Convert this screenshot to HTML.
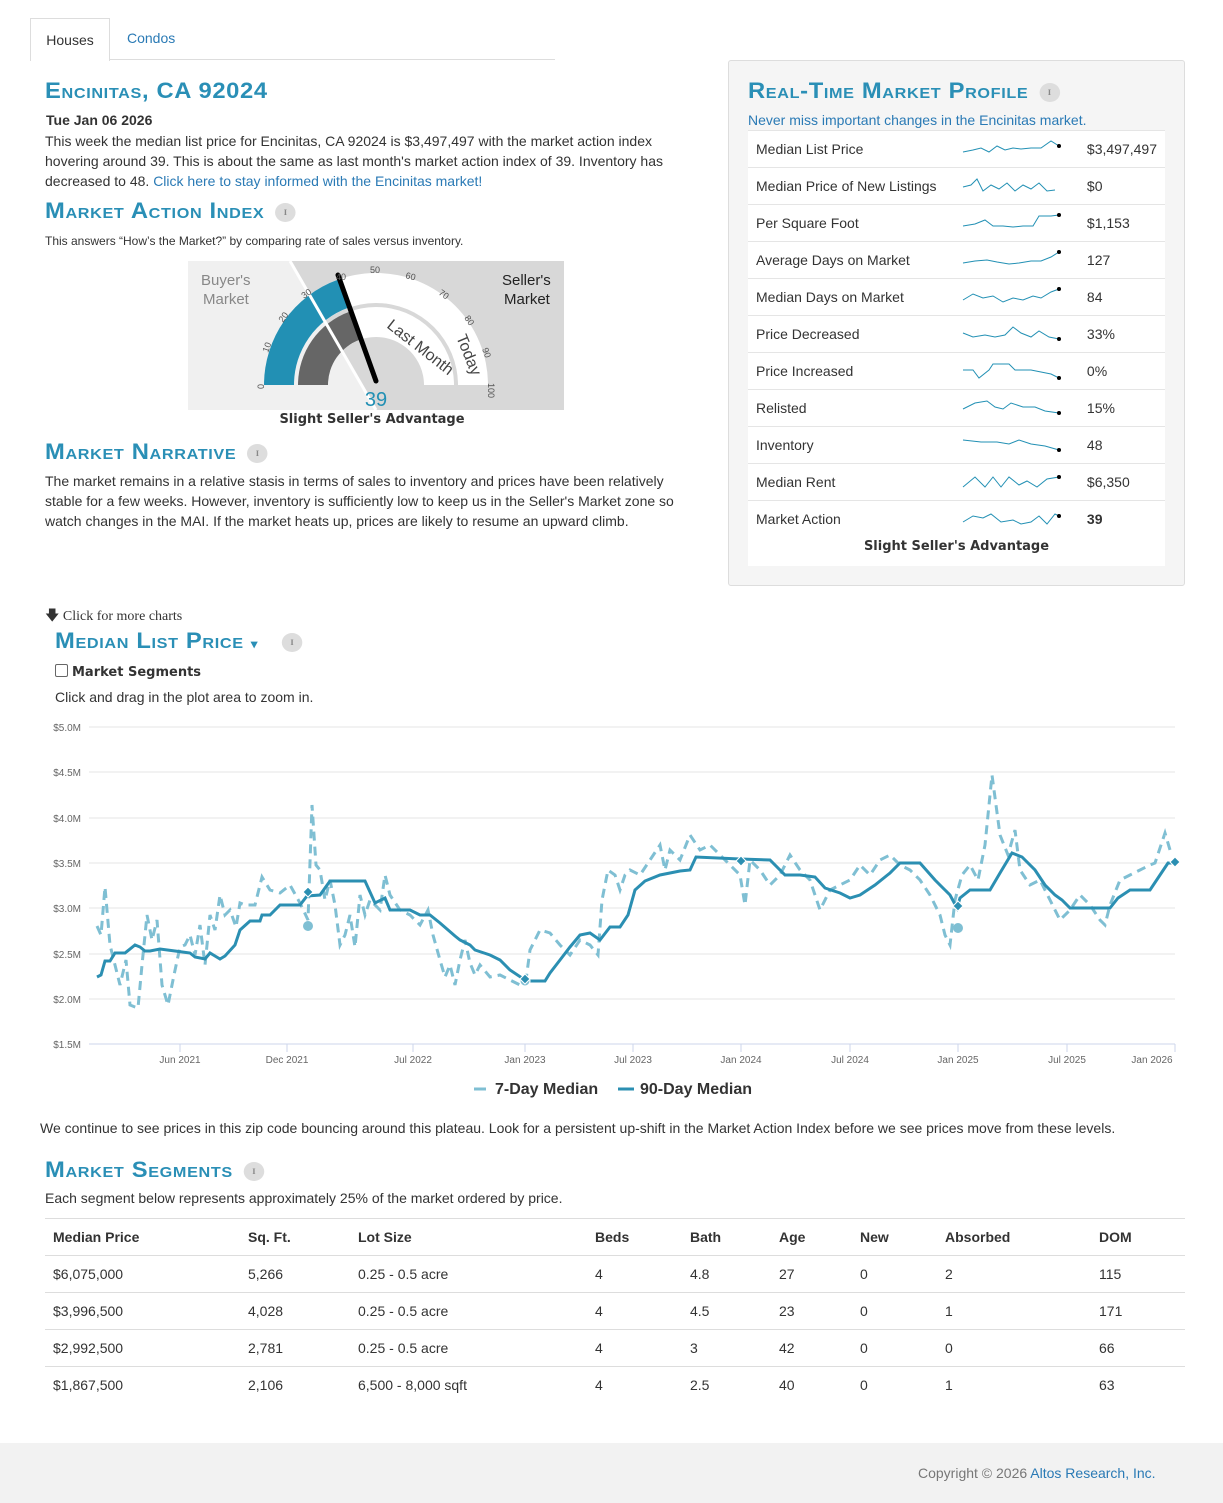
<!DOCTYPE html>
<html><head><meta charset="utf-8"><style>
body{margin:0;width:1223px;height:1503px;font-family:"Liberation Sans",sans-serif;font-size:14px;color:#333;background:#fff;position:relative;overflow:hidden}
.a{position:absolute}
h2{position:absolute;margin:0;font-family:"Liberation Sans",sans-serif;font-variant:small-caps;color:#2a8fb6;font-size:22px;font-weight:bold;letter-spacing:0.6px;transform:scaleX(1.08);transform-origin:left}
.info{display:inline-block;width:19px;height:19px;border-radius:50%;background:#ddd;color:#888;font-size:11px;text-align:center;line-height:19px;font-family:"Liberation Serif",serif;font-weight:bold;vertical-align:middle;margin-left:10px;letter-spacing:0}
a{color:#2a7ab5;text-decoration:none}
.prof td{border-top:1px solid #e5e5e5;height:36px;padding:0 8px;font-size:14px}
.seg{border-collapse:collapse;width:1140px}
.seg td,.seg th{text-align:left;height:36px;border-top:1px solid #ddd;padding:0 8px;font-size:14px}
</style></head><body>
<div class="a" style="left:30px;top:18px;width:525px;height:41px;border-bottom:1px solid #ddd"></div>
<div class="a" style="left:30px;top:18px;width:78px;height:42px;border:1px solid #ddd;border-bottom:none;background:#fff;text-align:center;line-height:42px">Houses</div>
<div class="a" style="left:127px;top:30px;color:#2a7ab5">Condos</div>

<h2 style="left:45px;top:78px">Encinitas, CA 92024</h2>
<div class="a" style="left:46px;top:112px;font-weight:bold">Tue Jan 06 2026</div>
<div class="a" style="left:45px;top:131px;width:640px;line-height:20px">This week the median list price for Encinitas, CA 92024 is $3,497,497 with the market action index hovering around 39. This is about the same as last month's market action index of 39. Inventory has decreased to 48. <a>Click here to stay informed with the Encinitas market!</a></div>
<h2 style="left:45px;top:198px">Market Action Index<span class="info">i</span></h2>
<div class="a" style="left:45px;top:234px;font-size:12px">This answers “How’s the Market?” by comparing rate of sales versus inventory.</div>

<svg class="a" style="left:188px;top:261px" width="376" height="149" viewBox="0 0 376 149">
<rect width="376" height="149" fill="#f0f0f0"/>
<polygon points="102,0 376,0 376,149 188,149" fill="#d8d8d8"/>
<path d="M76,124 A112,112 0 0 1 300,124 L270,124 A82,82 0 0 0 106,124Z" fill="#fff"/>
<path d="M76,124 A112,112 0 0 1 150,18.6 L160.2,46.8 A82,82 0 0 0 106,124Z" fill="#2290b4"/>
<path d="M110,124 A78,78 0 0 1 266,124 L236,124 A48,48 0 0 0 140,124Z" fill="#fff"/>
<path d="M110,124 A78,78 0 0 1 161.6,50.6 L171.7,78.8 A48,48 0 0 0 140,124Z" fill="#666"/>
<line x1="102" y1="0" x2="188" y2="149" stroke="#fff" stroke-width="3"/>
<line x1="150" y1="14" x2="188" y2="120" stroke="#000" stroke-width="5" stroke-linecap="round"/>
<g font-size="9" fill="#555" font-family="Liberation Sans">
<text x="76" y="128" transform="rotate(-90 76 128)">0</text>
<text x="80" y="92" transform="rotate(-70 80 92)">10</text>
<text x="95" y="62" transform="rotate(-55 95 62)">20</text>
<text x="116" y="38" transform="rotate(-35 116 38)">30</text>
<text x="148" y="19">40</text>
<text x="182" y="12">50</text>
<text x="217" y="17" transform="rotate(15 217 17)">60</text>
<text x="250" y="33" transform="rotate(35 250 33)">70</text>
<text x="276" y="57" transform="rotate(55 276 57)">80</text>
<text x="294" y="88" transform="rotate(70 294 88)">90</text>
<text x="300" y="122" transform="rotate(90 300 122)">100</text>
</g>
<text x="198" y="66" font-size="16" fill="#444" transform="rotate(38 198 66)">Last Month</text>
<text x="268" y="76" font-size="16" fill="#444" transform="rotate(68 268 76)">Today</text>
<text x="13" y="24" font-size="15" fill="#888">Buyer's</text>
<text x="15" y="43" font-size="15" fill="#888">Market</text>
<text x="314" y="24" font-size="15" fill="#222">Seller's</text>
<text x="316" y="43" font-size="15" fill="#222">Market</text>
<text x="188" y="145" font-size="20" fill="#2290b4" text-anchor="middle">39</text>
</svg>
<div class="a" style="left:188px;top:412px;width:368px;text-align:center;font-weight:bold;font-family:'DejaVu Sans',sans-serif;font-size:13px">Slight Seller's Advantage</div>
<h2 style="left:45px;top:439px">Market Narrative<span class="info">i</span></h2>
<div class="a" style="left:45px;top:471px;width:640px;line-height:20px">The market remains in a relative stasis in terms of sales to inventory and prices have been relatively stable for a few weeks. However, inventory is sufficiently low to keep us in the Seller's Market zone so watch changes in the MAI. If the market heats up, prices are likely to resume an upward climb.</div>

<div class="a" style="left:728px;top:60px;width:455px;height:524px;background:#f5f5f5;border:1px solid #ddd;border-radius:3px"></div>
<h2 style="left:748px;top:78px">Real-Time Market Profile<span class="info">i</span></h2>
<div class="a" style="left:748px;top:112px;color:#2a7ab5">Never miss important changes in the Encinitas market.</div>
<div class="a" style="left:748px;top:130px;width:417px;height:436px;background:#fff"></div>
<table class="a prof" style="left:748px;top:130px;width:417px;border-collapse:collapse">
<tr><td style="width:190px">Median List Price</td><td style="width:110px"><svg width="100" height="20"><polyline points="2,14 12,12 20,10 28,14 36,8 44,12 52,10 60,11 70,10 80,10 90,3 98,8" fill="none" stroke="#2290b4"/><circle cx="98" cy="8" r="2"/></svg></td><td>$3,497,497</td></tr>
<tr><td>Median Price of New Listings</td><td><svg width="100" height="20"><polyline points="2,12 10,10 16,4 22,16 30,10 38,14 46,8 54,16 62,10 70,14 78,8 86,16 94,15" fill="none" stroke="#2290b4"/></svg></td><td>$0</td></tr>
<tr><td>Per Square Foot</td><td><svg width="100" height="20"><polyline points="2,14 14,12 24,8 32,14 42,14 52,15 62,14 72,14 78,4 90,4 98,3" fill="none" stroke="#2290b4"/><circle cx="98" cy="3" r="2"/></svg></td><td>$1,153</td></tr>
<tr><td>Average Days on Market</td><td><svg width="100" height="20"><polyline points="2,14 14,12 26,11 36,13 48,15 58,14 70,12 80,12 90,8 98,3" fill="none" stroke="#2290b4"/><circle cx="98" cy="3" r="2"/></svg></td><td>127</td></tr>
<tr><td>Median Days on Market</td><td><svg width="100" height="20"><polyline points="2,14 12,8 22,12 32,10 42,16 52,12 62,14 72,10 80,12 90,6 98,3" fill="none" stroke="#2290b4"/><circle cx="98" cy="3" r="2"/></svg></td><td>84</td></tr>
<tr><td>Price Decreased</td><td><svg width="100" height="20"><polyline points="2,10 12,14 24,12 34,14 44,12 52,4 60,10 70,14 78,8 88,14 98,16" fill="none" stroke="#2290b4"/><circle cx="98" cy="16" r="2"/></svg></td><td>33%</td></tr>
<tr><td>Price Increased</td><td><svg width="100" height="20"><polyline points="2,10 12,10 18,18 28,10 32,4 48,4 54,10 70,10 80,12 90,14 98,18" fill="none" stroke="#2290b4"/><circle cx="98" cy="18" r="2"/></svg></td><td>0%</td></tr>
<tr><td>Relisted</td><td><svg width="100" height="20"><polyline points="2,12 14,6 26,4 34,10 42,12 50,6 62,10 74,10 84,14 98,16" fill="none" stroke="#2290b4"/><circle cx="98" cy="16" r="2"/></svg></td><td>15%</td></tr>
<tr><td>Inventory</td><td><svg width="100" height="20"><polyline points="2,6 20,8 36,8 48,10 58,6 70,10 84,12 98,16" fill="none" stroke="#2290b4"/><circle cx="98" cy="16" r="2"/></svg></td><td>48</td></tr>
<tr><td>Median Rent</td><td><svg width="100" height="20"><polyline points="2,16 14,6 24,16 32,6 40,16 48,6 58,14 66,10 76,16 86,8 98,6" fill="none" stroke="#2290b4"/><circle cx="98" cy="6" r="2"/></svg></td><td>$6,350</td></tr>
<tr><td>Market Action</td><td><svg width="100" height="20"><polyline points="2,14 12,8 22,10 30,6 40,14 52,12 60,16 70,14 78,8 86,16 94,6 98,8" fill="none" stroke="#2290b4"/><circle cx="98" cy="8" r="2"/></svg></td><td style="font-weight:bold">39</td></tr>
</table>
<div class="a" style="left:748px;top:539px;width:417px;text-align:center;font-weight:bold;font-family:'DejaVu Sans',sans-serif;font-size:13px">Slight Seller's Advantage</div>

<div class="a" style="left:45px;top:605px;font-family:'Liberation Serif',serif;font-size:14px">&#129095; Click for more charts</div>
<h2 style="left:55px;top:628px">Median List Price <span style="font-size:12px">▾</span><span class="info" style="margin-left:22px">i</span></h2>
<div class="a" style="left:55px;top:664px;font-weight:bold;font-family:'DejaVu Sans',sans-serif;font-size:13px"><span style="display:inline-block;width:11px;height:11px;border:1px solid #666;border-radius:2px;vertical-align:-1px;margin-right:4px"></span>Market Segments</div>
<div class="a" style="left:55px;top:689px">Click and drag in the plot area to zoom in.</div>

<svg class="a" style="left:0;top:715px" width="1223" height="390">
<g stroke="#e6e6e6"><line x1="89" x2="1175" y1="12" y2="12"/><line x1="89" x2="1175" y1="57" y2="57"/><line x1="89" x2="1175" y1="103" y2="103"/><line x1="89" x2="1175" y1="148" y2="148"/><line x1="89" x2="1175" y1="193" y2="193"/><line x1="89" x2="1175" y1="239" y2="239"/><line x1="89" x2="1175" y1="284" y2="284"/></g>
<line x1="89" x2="1175" y1="329" y2="329" stroke="#ccd6eb"/>
<g font-size="10" fill="#666" text-anchor="end"><text x="81" y="16">$5.0M</text><text x="81" y="61">$4.5M</text><text x="81" y="107">$4.0M</text><text x="81" y="152">$3.5M</text><text x="81" y="197">$3.0M</text><text x="81" y="243">$2.5M</text><text x="81" y="288">$2.0M</text><text x="81" y="333">$1.5M</text></g>
<g font-size="10" fill="#666" text-anchor="middle"><text x="180" y="348">Jun 2021</text><text x="287" y="348">Dec 2021</text><text x="413" y="348">Jul 2022</text><text x="525" y="348">Jan 2023</text><text x="633" y="348">Jul 2023</text><text x="741" y="348">Jan 2024</text><text x="850" y="348">Jul 2024</text><text x="958" y="348">Jan 2025</text><text x="1067" y="348">Jul 2025</text><text x="1152" y="348">Jan 2026</text></g>
<g stroke="#ccd6eb"><line x1="180" x2="180" y1="329" y2="337"/><line x1="287" x2="287" y1="329" y2="337"/><line x1="413" x2="413" y1="329" y2="337"/><line x1="525" x2="525" y1="329" y2="337"/><line x1="633" x2="633" y1="329" y2="337"/><line x1="741" x2="741" y1="329" y2="337"/><line x1="850" x2="850" y1="329" y2="337"/><line x1="958" x2="958" y1="329" y2="337"/><line x1="1067" x2="1067" y1="329" y2="337"/><line x1="1175" x2="1175" y1="329" y2="337"/></g>
<polyline fill="none" stroke="#7fbfd3" stroke-width="3" stroke-dasharray="9,6" points="97,211 101,220 105,172 110,230 115,250 120,270 126,245 130,290 135,292 138,293 142,250 147,200 152,225 157,205 162,270 168,290 174,260 180,232 185,230 190,220 195,240 200,210 205,250 210,200 215,215 220,180 225,200 230,195 236,212 240,188 245,190 255,190 262,162 270,175 280,178 290,170 300,188 308,205 312,90 316,150 320,155 325,185 330,165 335,190 340,230 345,220 350,200 355,232 360,180 365,200 370,185 380,195 385,160 390,180 400,195 410,200 420,210 428,195 433,220 440,245 445,262 450,250 455,270 460,245 465,225 470,248 475,260 480,250 490,262 500,260 510,265 520,270 526,265 530,235 540,215 550,218 560,230 570,240 580,225 590,230 598,240 602,185 608,155 615,160 620,175 625,160 630,155 640,160 650,145 660,130 665,155 670,135 680,145 690,120 700,135 710,130 720,140 730,150 740,160 745,190 750,145 760,155 770,170 780,160 790,140 800,155 810,165 820,195 830,175 840,170 850,165 860,150 870,160 880,145 890,140 900,150 910,155 920,165 930,180 940,200 945,220 950,230 955,185 962,160 970,150 978,165 985,130 992,60 1000,120 1008,140 1015,115 1020,155 1030,170 1040,165 1050,185 1060,205 1070,195 1080,180 1090,190 1100,205 1105,210 1110,190 1120,165 1130,160 1140,155 1150,150 1155,148 1165,118 1170,135"/>
<polyline fill="none" stroke="#2b8fb2" stroke-width="3" points="97,262 101,260 105,246 110,246 115,238 125,238 135,230 140,232 145,236 150,236 160,234 175,236 190,238 195,242 205,244 210,238 215,241 220,244 225,241 235,230 240,215 250,206 260,206 262,200 270,200 280,190 300,190 307,181 320,180 330,166 345,166 365,166 375,188 385,183 390,195 410,195 420,200 430,200 440,208 455,221 460,225 470,230 475,235 490,240 500,245 510,255 525,265 530,266 545,266 550,258 560,245 570,232 580,220 590,218 600,225 610,212 620,212 628,200 635,175 645,166 660,160 680,156 690,155 696,142 740,144 770,145 785,160 800,160 815,162 825,173 840,178 850,183 860,180 875,170 890,158 900,148 920,148 935,165 945,175 950,180 957,193 960,183 970,175 990,175 1000,158 1012,138 1022,142 1035,155 1045,170 1055,180 1062,185 1070,193 1110,193 1118,183 1130,175 1150,175 1160,160 1168,148 1175,148"/>
<circle cx="308" cy="211" r="5" fill="#7fbfd3"/><circle cx="958" cy="213" r="5" fill="#7fbfd3"/><circle cx="525" cy="266" r="5" fill="#7fbfd3" stroke="#fff"/>
<g fill="#2b8fb2" stroke="#fff"><path d="M308,172 l5,5 -5,5 -5,-5z"/><path d="M525,259 l5,5 -5,5 -5,-5z"/><path d="M741,141 l5,5 -5,5 -5,-5z"/><path d="M958,186 l5,5 -5,5 -5,-5z"/><path d="M1175,142 l5,5 -5,5 -5,-5z"/></g>
<line x1="474" x2="486" y1="374" y2="374" stroke="#7fbfd3" stroke-width="3"/>
<text x="495" y="379" font-size="16" font-weight="bold" fill="#333" font-family="Liberation Sans">7-Day Median</text>
<line x1="618" x2="634" y1="374" y2="374" stroke="#2b8fb2" stroke-width="3"/>
<text x="640" y="379" font-size="16" font-weight="bold" fill="#333" font-family="Liberation Sans">90-Day Median</text>
</svg>

<div class="a" style="left:40px;top:1120px">We continue to see prices in this zip code bouncing around this plateau. Look for a persistent up-shift in the Market Action Index before we see prices move from these levels.</div>
<h2 style="left:45px;top:1157px">Market Segments<span class="info">i</span></h2>
<div class="a" style="left:45px;top:1190px">Each segment below represents approximately 25% of the market ordered by price.</div>
<table class="a seg" style="left:45px;top:1218px">
<tr><th style="width:179px">Median Price</th><th style="width:94px">Sq. Ft.</th><th style="width:221px">Lot Size</th><th style="width:79px">Beds</th><th style="width:73px">Bath</th><th style="width:65px">Age</th><th style="width:69px">New</th><th style="width:138px">Absorbed</th><th>DOM</th></tr>
<tr><td>$6,075,000</td><td>5,266</td><td>0.25 - 0.5 acre</td><td>4</td><td>4.8</td><td>27</td><td>0</td><td>2</td><td>115</td></tr>
<tr><td>$3,996,500</td><td>4,028</td><td>0.25 - 0.5 acre</td><td>4</td><td>4.5</td><td>23</td><td>0</td><td>1</td><td>171</td></tr>
<tr><td>$2,992,500</td><td>2,781</td><td>0.25 - 0.5 acre</td><td>4</td><td>3</td><td>42</td><td>0</td><td>0</td><td>66</td></tr>
<tr><td>$1,867,500</td><td>2,106</td><td>6,500 - 8,000 sqft</td><td>4</td><td>2.5</td><td>40</td><td>0</td><td>1</td><td>63</td></tr>
</table>
<div class="a" style="left:0;top:1443px;width:1223px;height:60px;background:#f2f2f2"></div>
<div class="a" style="left:918px;top:1465px;color:#777">Copyright © 2026 <a>Altos Research, Inc.</a></div>
</body></html>
